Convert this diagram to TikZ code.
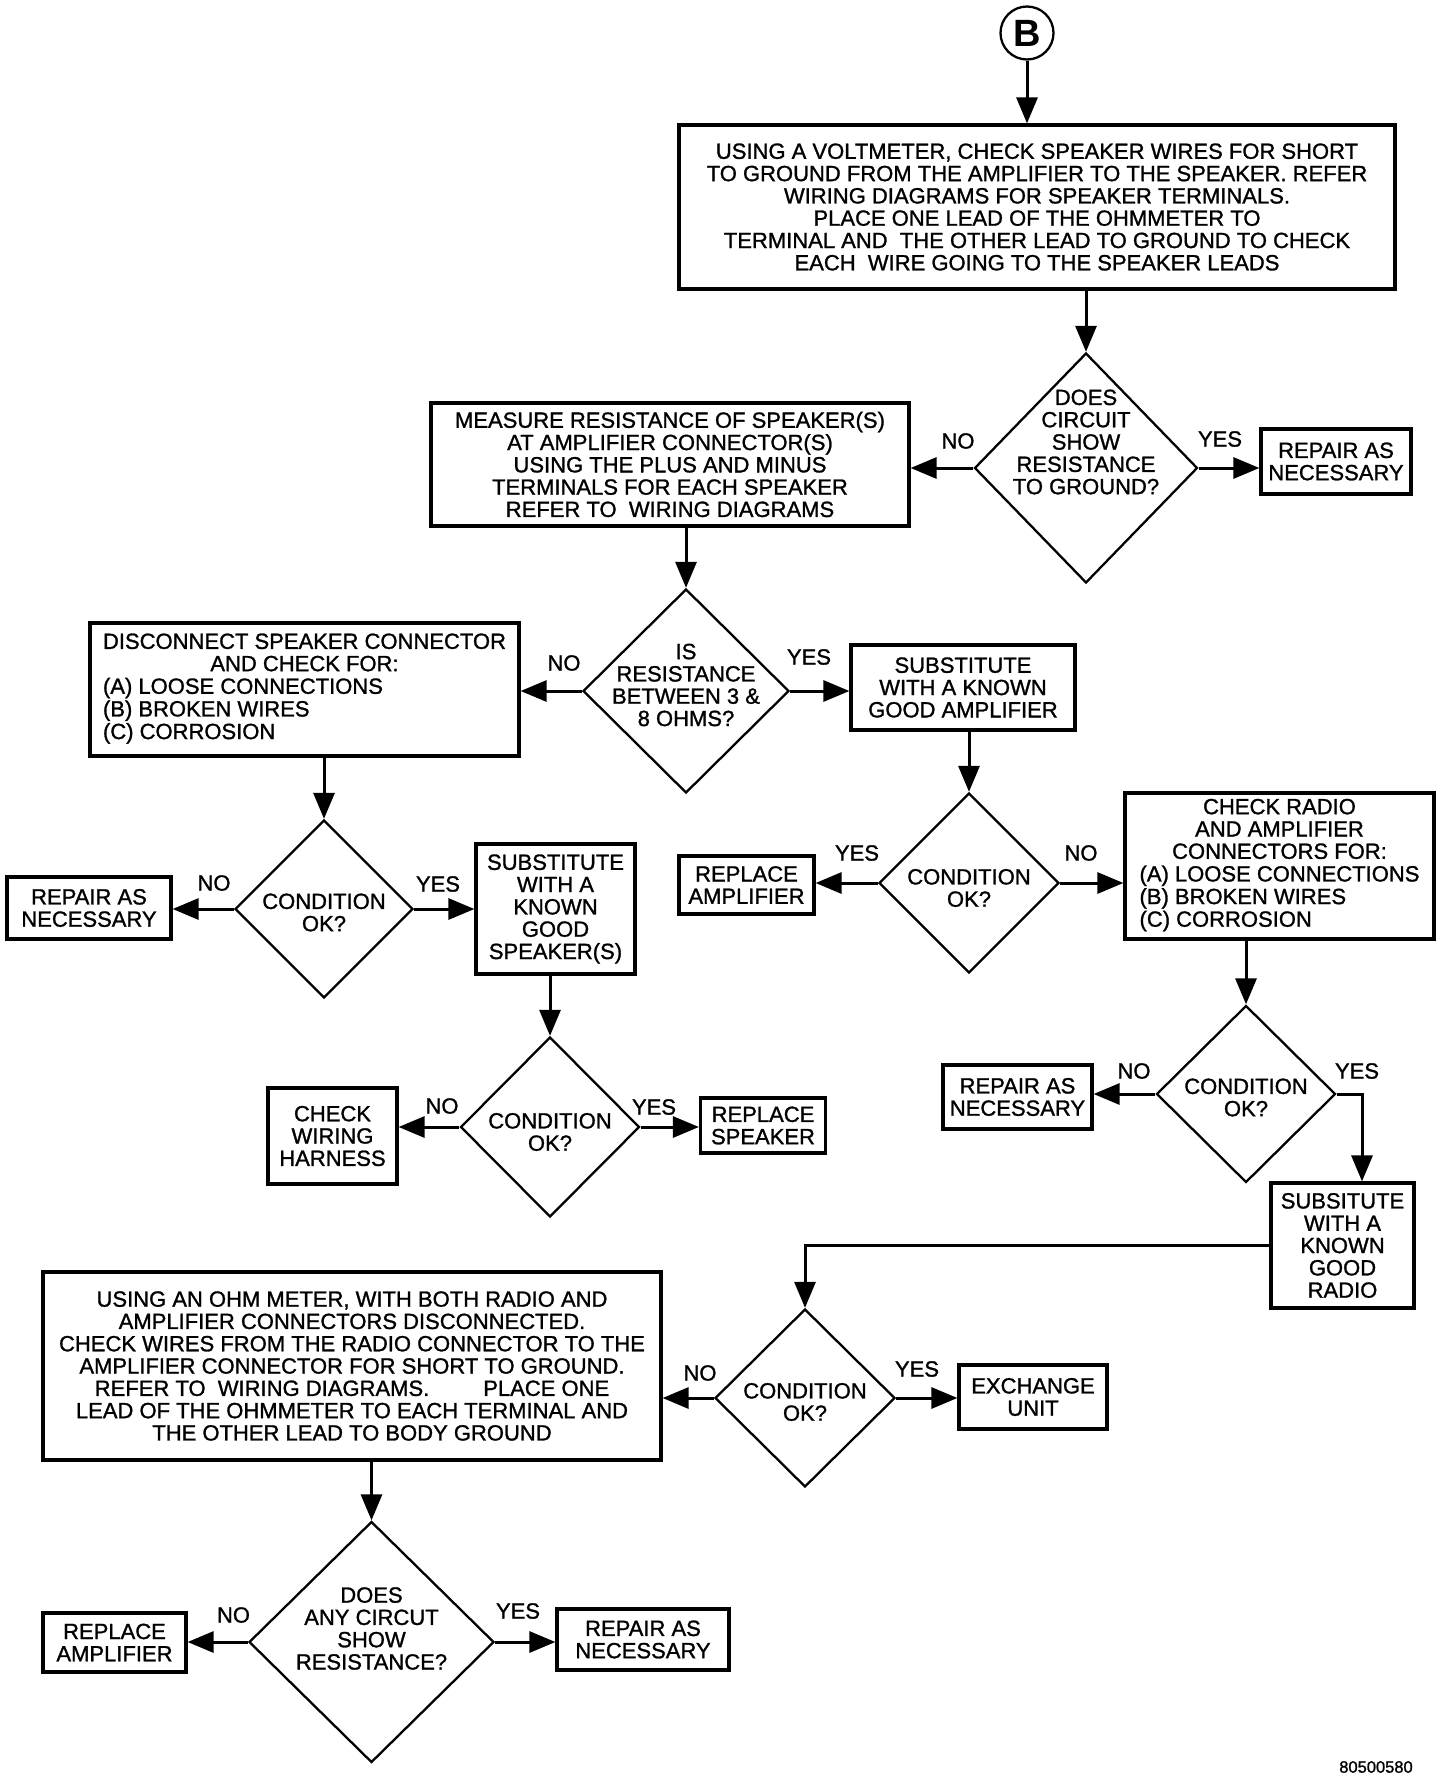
\documentclass[tikz,border=0pt]{standalone}
\usepackage{fontspec}
\setmainfont{Liberation Sans}
\newfontfamily\heavy{Liberation Sans}[FakeBold=1.2]
\usetikzlibrary{arrows.meta,shapes.geometric,calc}
\begin{document}
\begin{tikzpicture}[x=1pt,y=-1pt,
  every node/.style={font=\heavy\fontsize{22}{22.3}\selectfont},
  box/.style={draw,line width=3.2pt,rectangle,inner sep=0pt,align=center},
  dia/.style={draw,line width=2.3pt,diamond,inner sep=0pt},
  dtext/.style={align=center,inner sep=0pt},
  lab/.style={inner sep=0pt},
  conn/.style={line width=3pt,-{Triangle[length=26pt,width=21pt]}},
]
\useasboundingbox (0,0) rectangle (1456,1780);

% start
\node[circle,draw,line width=2.3pt,minimum size=53pt,inner sep=0pt,font=\rmfamily\fontsize{38}{38}\selectfont\bfseries] (B) at (1027,33) {B};

% boxes
\node[box,minimum width=716pt,minimum height=164pt] (box1) at (1037,207)
 {USING A VOLTMETER, CHECK SPEAKER WIRES FOR SHORT\\
  TO GROUND FROM THE AMPLIFIER TO THE SPEAKER. REFER\\
  WIRING DIAGRAMS FOR SPEAKER TERMINALS.\\
  PLACE ONE LEAD OF THE OHMMETER TO\\
  TERMINAL AND\ \ THE OTHER LEAD TO GROUND TO CHECK\\
  EACH\ \ WIRE GOING TO THE SPEAKER LEADS};

\node[dia,minimum width=223pt,minimum height=230pt] (d1) at (1086,468) {};
\node[dtext] (d1t) at (1086,442) {DOES\\CIRCUIT\\SHOW\\RESISTANCE\\TO GROUND?};

\node[box,minimum width=150pt,minimum height=65pt] (rep1) at (1336,461.5) {REPAIR AS\\NECESSARY};

\node[box,minimum width=478pt,minimum height=123pt] (box2) at (670,464.5)
 {MEASURE RESISTANCE OF SPEAKER(S)\\
  AT AMPLIFIER CONNECTOR(S)\\
  USING THE PLUS AND MINUS\\
  TERMINALS FOR EACH SPEAKER\\
  REFER TO\ \ WIRING DIAGRAMS};

\node[dia,minimum width=206pt,minimum height=204pt] (d2) at (686,691) {};
\node[dtext] (d2t) at (686,685) {IS\\RESISTANCE\\BETWEEN 3 \&\\8 OHMS?};

\node[box,minimum width=429pt,minimum height=133pt] (box4) at (304.5,689.5)
 {\begin{tabular}{@{}l@{}}
  \multicolumn{1}{@{}c@{}}{DISCONNECT SPEAKER CONNECTOR}\\
  \multicolumn{1}{@{}c@{}}{AND CHECK FOR:}\\
  (A) LOOSE CONNECTIONS\\
  (B) BROKEN WIRES\\
  (C) CORROSION
  \end{tabular}};

\node[box,minimum width=224pt,minimum height=85pt] (box5) at (963,687.5)
 {SUBSTITUTE\\WITH A KNOWN\\GOOD AMPLIFIER};

\node[dia,minimum width=178pt,minimum height=178pt] (d3) at (324,909) {};
\node[dtext] (d3t) at (324,912.5) {CONDITION\\OK?};

\node[box,minimum width=164pt,minimum height=62pt] (rep2) at (89,908) {REPAIR AS\\NECESSARY};

\node[box,minimum width=159pt,minimum height=130pt] (box7) at (555.5,909)
 {SUBSTITUTE\\WITH A\\KNOWN\\GOOD\\SPEAKER(S)};

\node[dia,minimum width=179pt,minimum height=180pt] (d4) at (550,1127) {};
\node[dtext] (d4t) at (550,1132) {CONDITION\\OK?};

\node[box,minimum width=129pt,minimum height=96pt] (wir) at (332.5,1136) {CHECK\\WIRING\\HARNESS};
\node[box,minimum width=125pt,minimum height=55pt] (spk) at (763,1125.5) {REPLACE\\SPEAKER};

\node[dia,minimum width=180pt,minimum height=180pt] (d5) at (969,883) {};
\node[dtext] (d5t) at (969,888) {CONDITION\\OK?};

\node[box,minimum width=135pt,minimum height=58pt] (amp1) at (746.5,885) {REPLACE\\AMPLIFIER};

\node[box,minimum width=309pt,minimum height=146pt] (box11) at (1279.5,866)
 {\begin{tabular}{@{}l@{}}
  \multicolumn{1}{@{}c@{}}{CHECK RADIO}\\
  \multicolumn{1}{@{}c@{}}{AND AMPLIFIER}\\
  \multicolumn{1}{@{}c@{}}{CONNECTORS FOR:}\\
  (A) LOOSE CONNECTIONS\\
  (B) BROKEN WIRES\\
  (C) CORROSION
  \end{tabular}};

\node[dia,minimum width=179pt,minimum height=177pt] (d6) at (1246,1094) {};
\node[dtext] (d6t) at (1246,1097.5) {CONDITION\\OK?};

\node[box,minimum width=149pt,minimum height=64pt] (rep3) at (1017.5,1097) {REPAIR AS\\NECESSARY};

\node[box,minimum width=143pt,minimum height=125pt] (box13) at (1342.5,1245.5)
 {SUBSITUTE\\WITH A\\KNOWN\\GOOD\\RADIO};

\node[dia,minimum width=180pt,minimum height=178pt] (d7) at (805,1398) {};
\node[dtext] (d7t) at (805,1402) {CONDITION\\OK?};

\node[box,minimum width=148pt,minimum height=64pt] (exch) at (1033,1397) {EXCHANGE\\UNIT};

\node[box,minimum width=618pt,minimum height=188pt] (box14) at (352,1366)
 {USING AN OHM METER, WITH BOTH RADIO AND\\
  AMPLIFIER CONNECTORS DISCONNECTED.\\
  CHECK WIRES FROM THE RADIO CONNECTOR TO THE\\
  AMPLIFIER CONNECTOR FOR SHORT TO GROUND.\\
  REFER TO\ \ WIRING DIAGRAMS.\hspace{54pt}PLACE ONE\\
  LEAD OF THE OHMMETER TO EACH TERMINAL AND\\
  THE OTHER LEAD TO BODY GROUND};

\node[dia,minimum width=245pt,minimum height=241pt] (d8) at (371.5,1642) {};
\node[dtext] (d8t) at (371.5,1628.5) {DOES\\ANY CIRCUT\\SHOW\\RESISTANCE?};

\node[box,minimum width=143pt,minimum height=59pt] (amp2) at (114.5,1642.5) {REPLACE\\AMPLIFIER};
\node[box,minimum width=172pt,minimum height=61pt] (rep4) at (643,1639.5) {REPAIR AS\\NECESSARY};

% labels
\node[lab] (l1n) at (958,441) {NO};
\node[lab] (l1y) at (1220,439) {YES};
\node[lab] (l2n) at (564,663) {NO};
\node[lab] (l2y) at (809,657) {YES};
\node[lab] (l3n) at (214,883) {NO};
\node[lab] (l3y) at (438,884) {YES};
\node[lab] (l4n) at (442,1106) {NO};
\node[lab] (l4y) at (654,1107) {YES};
\node[lab] (l5y) at (857,853) {YES};
\node[lab] (l5n) at (1081,853) {NO};
\node[lab] (l6n) at (1134,1071) {NO};
\node[lab] (l6y) at (1357,1071) {YES};
\node[lab] (l7n) at (700,1373) {NO};
\node[lab] (l7y) at (917,1369) {YES};
\node[lab] (l8n) at (233.5,1615) {NO};
\node[lab] (l8y) at (518,1611) {YES};

\node[lab,font=\heavy\fontsize{16.5}{16.5}\selectfont] (fig) at (1376,1767) {80500580};

% connectors
\draw[conn] (B.south) -- (B.south |- box1.north);
\draw[conn] (box1.south -| d1.north) -- (d1.north);
\draw[conn] (d1.west) -- (d1.west -| box2.east);
\draw[conn] (d1.east) -- (d1.east -| rep1.west);
\draw[conn] (box2.south -| d2.north) -- (d2.north);
\draw[conn] (d2.west) -- (d2.west -| box4.east);
\draw[conn] (d2.east) -- (d2.east -| box5.west);
\draw[conn] (box4.south -| d3.north) -- (d3.north);
\draw[conn] (d3.west) -- (d3.west -| rep2.east);
\draw[conn] (d3.east) -- (d3.east -| box7.west);
\draw[conn] (box7.south -| d4.north) -- (d4.north);
\draw[conn] (d4.west) -- (d4.west -| wir.east);
\draw[conn] (d4.east) -- (d4.east -| spk.west);
\draw[conn] (box5.south -| d5.north) -- (d5.north);
\draw[conn] (d5.west) -- (d5.west -| amp1.east);
\draw[conn] (d5.east) -- (d5.east -| box11.west);
\draw[conn] (box11.south -| d6.north) -- (d6.north);
\draw[conn] (d6.west) -- (d6.west -| rep3.east);
\coordinate (c13) at ([xshift=19.5pt]box13.north);
\draw[conn] (d6.east) -| (c13);
\draw[conn] (box13.west) -| (d7.north);
\draw[conn] (d7.west) -- (d7.west -| box14.east);
\draw[conn] (d7.east) -- (d7.east -| exch.west);
\draw[conn] (box14.south -| d8.north) -- (d8.north);
\draw[conn] (d8.west) -- (d8.west -| amp2.east);
\draw[conn] (d8.east) -- (d8.east -| rep4.west);
\end{tikzpicture}
\end{document}
